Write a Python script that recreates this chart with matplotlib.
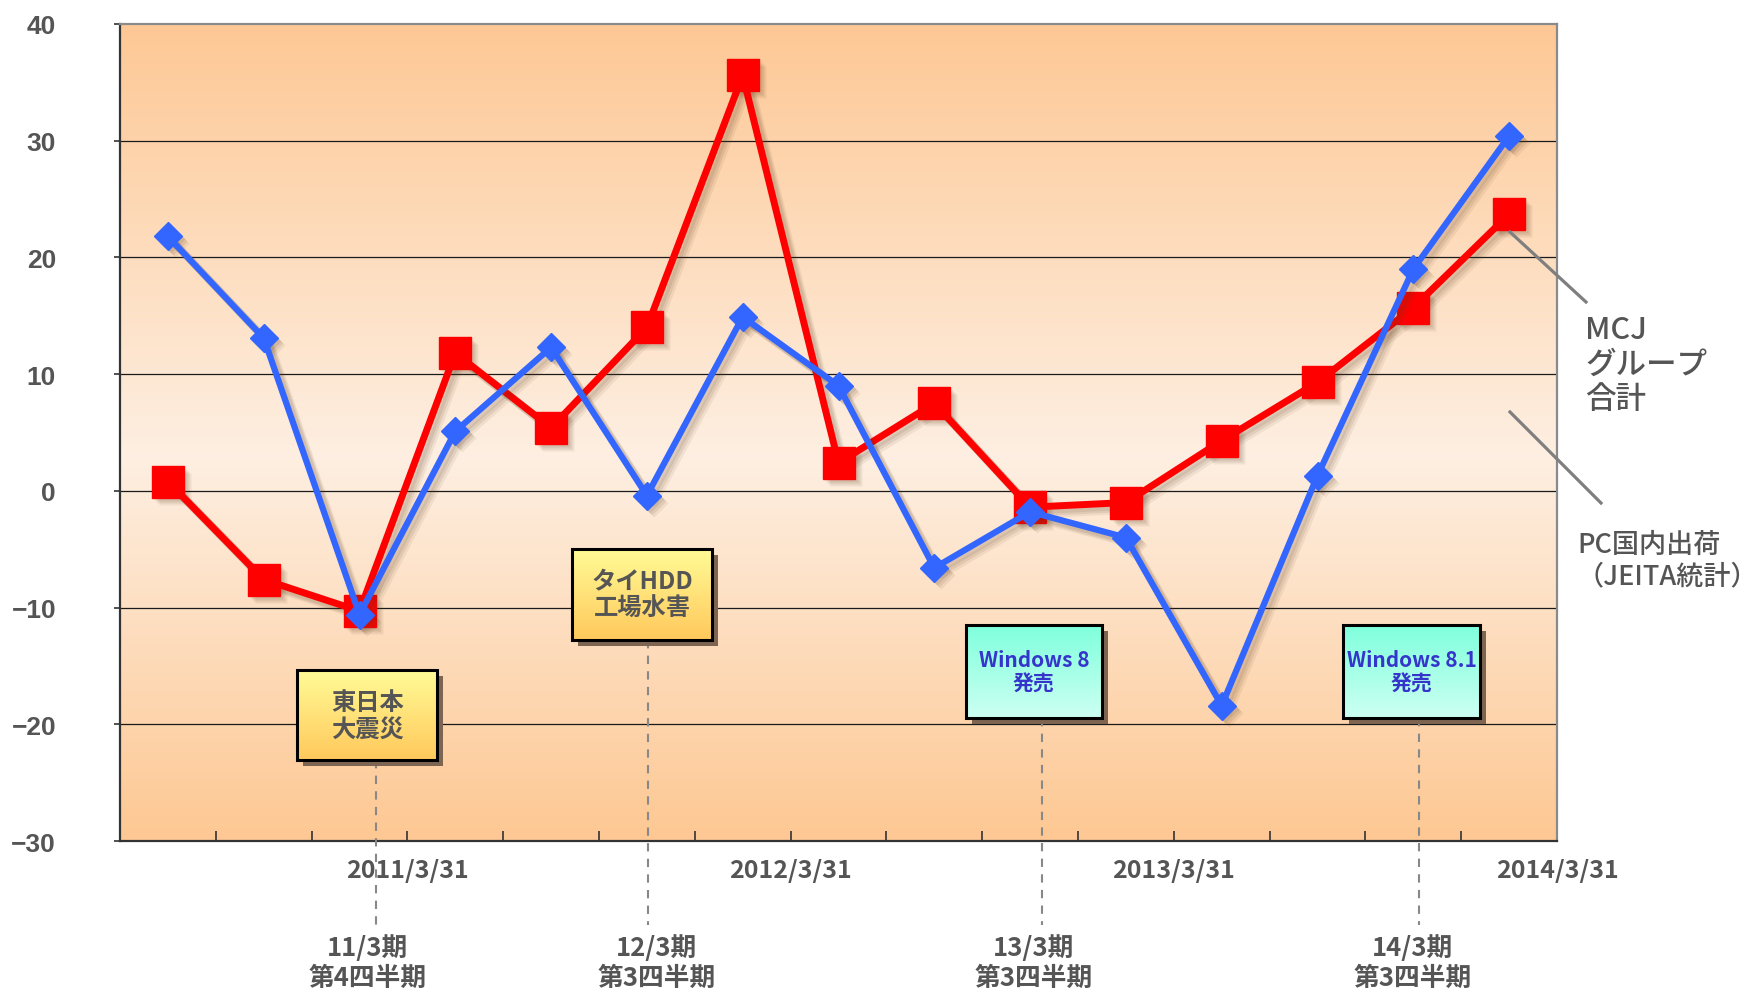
import matplotlib.pyplot as plt
import matplotlib.transforms as mtransforms
from matplotlib.colors import LinearSegmentedColormap
from matplotlib.patches import Rectangle
from matplotlib.lines import Line2D
import numpy as np

plt.rcParams['font.family'] = ['Noto Sans CJK JP', 'DejaVu Sans']
plt.rcParams['axes.unicode_minus'] = True

# quarterly year-on-year change (%), Jul-Sep 2010 .. Jan-Mar 2014
quarters = np.arange(15)
mcj_group = [0.8, -7.6, -10.3, 11.8, 5.4, 14.0, 35.6, 2.4, 7.5, -1.4, -1.0, 4.3, 9.3, 15.7, 23.7]
pc_shipments = [21.8, 13.1, -10.6, 5.1, 12.3, -0.4, 14.9, 9.0, -6.6, -1.8, -4.0, -18.4, 1.3, 19.0, 30.4]

y_ticks = [-30, -20, -10, 0, 10, 20, 30, 40]
date_labels = ['2011/3/31', '2012/3/31', '2013/3/31', '2014/3/31']
date_ticks = [2.5, 6.5, 10.5, 14.5]

event_text = ['東日本\n大震災', 'タイHDD\n工場水害', 'Windows 8\n発売', 'Windows 8.1\n発売']
event_x = [2.17, 5.01, 9.12, 13.06]
period_text = ['11/3期\n第4四半期', '12/3期\n第3四半期', '13/3期\n第3四半期', '14/3期\n第3四半期']

# box layout: (x0, x1, y0, y1) in data units, period label x
box_layout = [(1.35, 2.81, -23.07, -15.36),
              (4.22, 5.68, -12.8, -5.0),
              (8.33, 9.75, -19.5, -11.5),
              (12.27, 13.70, -19.5, -11.5)]
period_label_x = [2.08, 5.10, 9.04, 12.99]
box_styles = [('#FFFB96', '#FFC95C', '#555555', 17.5),
              ('#FFFB96', '#FFC95C', '#555555', 17.5),
              ('#7FFFDC', '#CCFFF2', '#3535CC', 15),
              ('#7FFFDC', '#CCFFF2', '#3535CC', 15)]

fig = plt.figure(figsize=(17.6, 9.95), dpi=100)
ax = fig.add_axes([120/1760, 1 - 842/995, (1557-120)/1760, (842-25)/995])

# background gradient: orange at top and bottom, pale in the middle
bg = LinearSegmentedColormap.from_list('bg', [(0.0, '#FDC893'), (0.47, '#FEEFE2'), (1.0, '#FDC895')])
ax.imshow(np.linspace(0, 1, 256).reshape(-1, 1), extent=[0, 1, 0, 1], transform=ax.transAxes,
          origin='lower', cmap=bg, aspect='auto', zorder=0)

for v in [-20, -10, 0, 10, 20, 30]:
    ax.axhline(v, color='#1a1a1a', lw=0.9, zorder=1)


def shadow_trans(dx, dy):
    return mtransforms.offset_copy(ax.transData, fig=fig, x=dx, y=dy, units='dots')


def draw_series(y, color, marker, ms, lw, z):
    # soft drop shadow built from a few offset translucent copies
    for d, a in [(3, 0.10), (5, 0.10), (7, 0.08)]:
        ax.plot(quarters, y, color='#5a3c20', lw=lw + 1, marker=marker, ms=ms, mec='none',
                alpha=a, transform=shadow_trans(d, -d), zorder=z, solid_joinstyle='round')
    ax.plot(quarters, y, color=color, lw=lw, marker=marker, ms=ms, mec=color, mfc=color,
            zorder=z + 0.5, solid_joinstyle='round')


draw_series(mcj_group, '#FF0000', 's', 23, 5.0, 3)
draw_series(pc_shipments, '#3366FF', 'D', 14.5, 4.5, 4)

# event boxes with dashed leaders down to the period labels
for (x0, x1, y0, y1), (top, bottom, tc, fs), txt, ex, ptxt, px in zip(
        box_layout, box_styles, event_text, event_x, period_text, period_label_x):
    ax.plot([ex, ex], [y0, -37.2], color='#888888', lw=1.5, dashes=(4, 3.5), zorder=5, clip_on=False)
    ax.add_patch(Rectangle((x0, y0), x1 - x0, y1 - y0, transform=shadow_trans(6, -6),
                           facecolor='#7d6552', edgecolor='none', zorder=6))
    cm = LinearSegmentedColormap.from_list('box', [bottom, top])
    ax.imshow(np.linspace(0, 1, 64).reshape(-1, 1), extent=[x0, x1, y0, y1], origin='lower',
              cmap=cm, aspect='auto', zorder=7)
    ax.add_patch(Rectangle((x0, y0), x1 - x0, y1 - y0, facecolor='none', edgecolor='black',
                           lw=2.2, zorder=8))
    ax.text((x0 + x1) / 2, (y0 + y1) / 2, txt, ha='center', va='center', color=tc,
            fontsize=fs, fontweight='bold', linespacing=1.15, zorder=9)
    ax.text(px, -40.4, ptxt, ha='center', va='center', color='#555555', fontsize=18.5,
            fontweight='bold', linespacing=1.12, clip_on=False)

ax.set_xlim(-0.5, 14.5)
ax.set_ylim(-30, 40)
ax.set_yticks(y_ticks)
ax.set_yticklabels([str(v).replace('-', '\u2212') for v in y_ticks],
                   family=['Liberation Sans', 'DejaVu Sans'],
                   fontweight='bold', fontsize=19, color='#555555')
ax.tick_params(axis='y', direction='out', length=4, width=1.2, color='#333333', pad=42)

bounds = np.arange(-0.5, 15, 1.0)
ax.set_xticks(bounds)
ax.set_xticklabels([date_labels[date_ticks.index(b)] if b in date_ticks else '' for b in bounds],
                   fontsize=18, fontweight='bold', color='#555555')
ax.tick_params(axis='x', direction='in', length=7, width=1.2, color='#333333', pad=12)

for side in ['left', 'bottom']:
    ax.spines[side].set_color('#333333')
    ax.spines[side].set_linewidth(1.6)
for side in ['top', 'right']:
    ax.spines[side].set_color('#8a8a8a')
    ax.spines[side].set_linewidth(1.6)

# series labels on the right with leader lines
W, H = 1760, 995
for (xa, ya), (xb, yb) in [((1510, 233), (1586, 303)), ((1510, 413), (1601, 504))]:
    fig.add_artist(Line2D([xa / W, xb / W], [1 - ya / H, 1 - yb / H], color='#7f7f7f', lw=2.3))
fig.text(1585 / W, 1 - 365 / H, 'MCJ\nグループ\n合計', ha='left', va='center', fontsize=22,
         color='#555555', fontweight='medium', linespacing=1.15)
fig.text(1577 / W, 1 - 561 / H, 'PC国内出荷\n（JEITA統計）', ha='left', va='center', fontsize=19.5,
         color='#555555', fontweight='medium', linespacing=1.25)

fig.savefig('out.png', dpi=100)
